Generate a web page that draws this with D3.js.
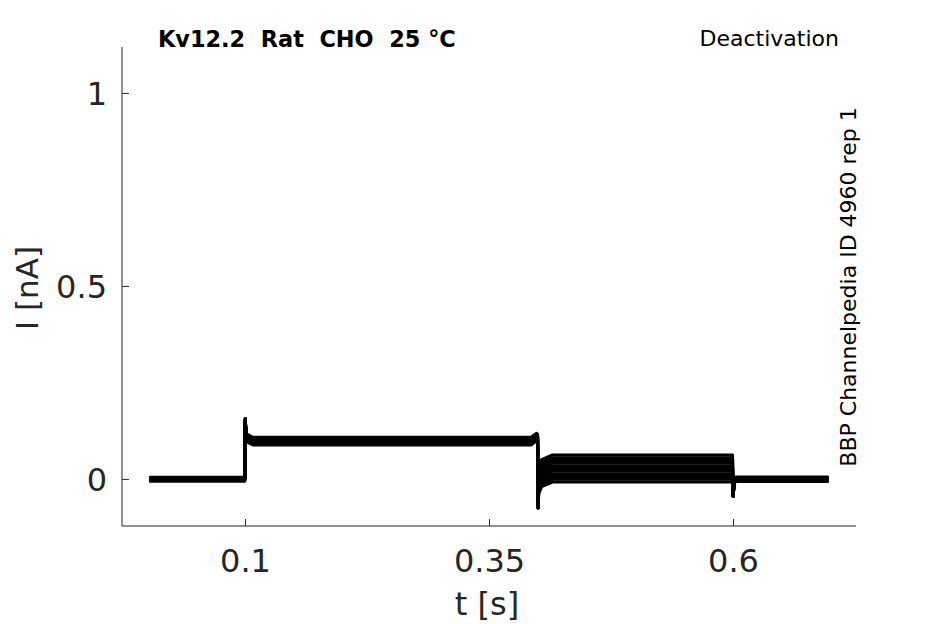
<!DOCTYPE html>
<html>
<head>
<meta charset="utf-8">
<script src="https://cdn.jsdelivr.net/npm/d3@7/dist/d3.min.js"></script>
<style>
  html, body { margin: 0; padding: 0; background: #fff; }
  svg { display: block; font-family: "DejaVu Sans", sans-serif; }
</style>
</head>
<body>
<svg id="chart" width="945" height="624"></svg>
<script>
// ---- data ----
const xTicks = [0.1, 0.35, 0.6];
const xTickLabels = ["0.1", "0.35", "0.6"];
const yTicks = [0, 0.5, 1];
const yTickLabels = ["0", "0.5", "1"];

// per-sweep levels (nA)
const baseLevels    = [-0.006, -0.002, 0.001, 0.000, 0.003, -0.001, 0.004, -0.003, 0.001, 0.000, -0.004];
const plateauLevels = [0.088, 0.092, 0.096, 0.099, 0.100, 0.102, 0.105, 0.098, 0.094, 0.101, 0.108];
const tailLevels    = [-0.008, -0.001, 0.006, 0.013, 0.020, 0.027, 0.034, 0.041, 0.048, 0.055, 0.062];
const endLevels     = [-0.007, -0.003, -0.001, 0.001, 0.003, 0.000, -0.002, 0.002, 0.005, -0.004, 0.001];

// shared transient values (nA)
const onsetPeak = 0.155;
const onsetAfter = 0.118;
const deactDip = -0.075;
const endDip = -0.045;

// knot times (s)
const knotTimes = [0.002, 0.0998, 0.1003, 0.1010, 0.1035, 0.108, 0.393, 0.3985, 0.3998,
                   0.4003, 0.4010, 0.404, 0.415, 0.5995, 0.6002, 0.6010, 0.603, 0.698];

function sweepValues(i) {
  const b = baseLevels[i], p = plateauLevels[i], t = tailLevels[i], e = endLevels[i];
  return [b, b, onsetPeak, onsetAfter, p + 0.006, p, p, p + 0.010, p + 0.008,
          deactDip, t - 0.030, t - 0.012, t, t, endDip, -0.012, e, e];
}

// ---- layout ----
const svg = d3.select("#chart");
const x = d3.scaleLinear().domain([-0.026, 0.726]).range([122, 856]);
const y = d3.scaleLinear().domain([-0.122, 1.119]).range([526, 47]);
const axisColor = "#262626";

// traces
const line = d3.line().x(d => x(d[0])).y(d => y(d[1]));
const sweeps = tailLevels.map((_, i) => {
  const v = sweepValues(i);
  return knotTimes.map((tt, k) => [tt, v[k]]);
});
svg.append("g")
  .selectAll("path")
  .data(sweeps)
  .join("path")
  .attr("d", line)
  .attr("fill", "none")
  .attr("stroke", "#000")
  .attr("stroke-width", 3)
  .attr("stroke-linejoin", "round");

// axes
const xAxis = d3.axisBottom(x).tickValues(xTicks).tickSize(-7)
  .tickFormat((d, i) => xTickLabels[i]).tickSizeOuter(0);
const gx = svg.append("g").attr("transform", "translate(0,526)").call(xAxis);
gx.select(".domain").attr("stroke", axisColor).attr("d", `M122,0H856`);
gx.selectAll(".tick line").attr("stroke", axisColor);
gx.selectAll(".tick text").attr("fill", axisColor).attr("font-size", 32)
  .attr("font-family", "DejaVu Sans").attr("dy", null).attr("y", 46);

const yAxis = d3.axisLeft(y).tickValues(yTicks).tickSize(-7)
  .tickFormat((d, i) => yTickLabels[i]).tickSizeOuter(0);
const gy = svg.append("g").attr("transform", "translate(122,0)").call(yAxis);
gy.select(".domain").attr("stroke", axisColor).attr("d", `M0,47V526`);
gy.selectAll(".tick line").attr("stroke", axisColor);
gy.selectAll(".tick text").attr("fill", axisColor).attr("font-size", 32)
  .attr("font-family", "DejaVu Sans").attr("x", -15).attr("dy", "0.36em");

// axis labels
svg.append("text").attr("x", 487).attr("y", 615).attr("text-anchor", "middle")
  .attr("font-size", 32).attr("fill", axisColor).text("t [s]");
svg.append("text").attr("transform", "translate(38,288) rotate(-90)")
  .attr("text-anchor", "middle").attr("font-size", 31).attr("fill", axisColor).text("I [nA]");

// title & annotations
svg.append("text").attr("x", 158).attr("y", 47).attr("font-size", 22.4)
  .attr("font-weight", "bold").attr("fill", "#000").attr("xml:space", "preserve")
  .style("white-space", "pre").text("Kv12.2  Rat  CHO  25 °C");
svg.append("text").attr("x", 839).attr("y", 46).attr("font-size", 22)
  .attr("text-anchor", "end").attr("fill", "#000").text("Deactivation");
svg.append("text").attr("transform", "translate(856,287) rotate(-90)")
  .attr("text-anchor", "middle").attr("font-size", 22).attr("fill", "#000")
  .text("BBP Channelpedia ID 4960 rep 1");
</script>
</body>
</html>
